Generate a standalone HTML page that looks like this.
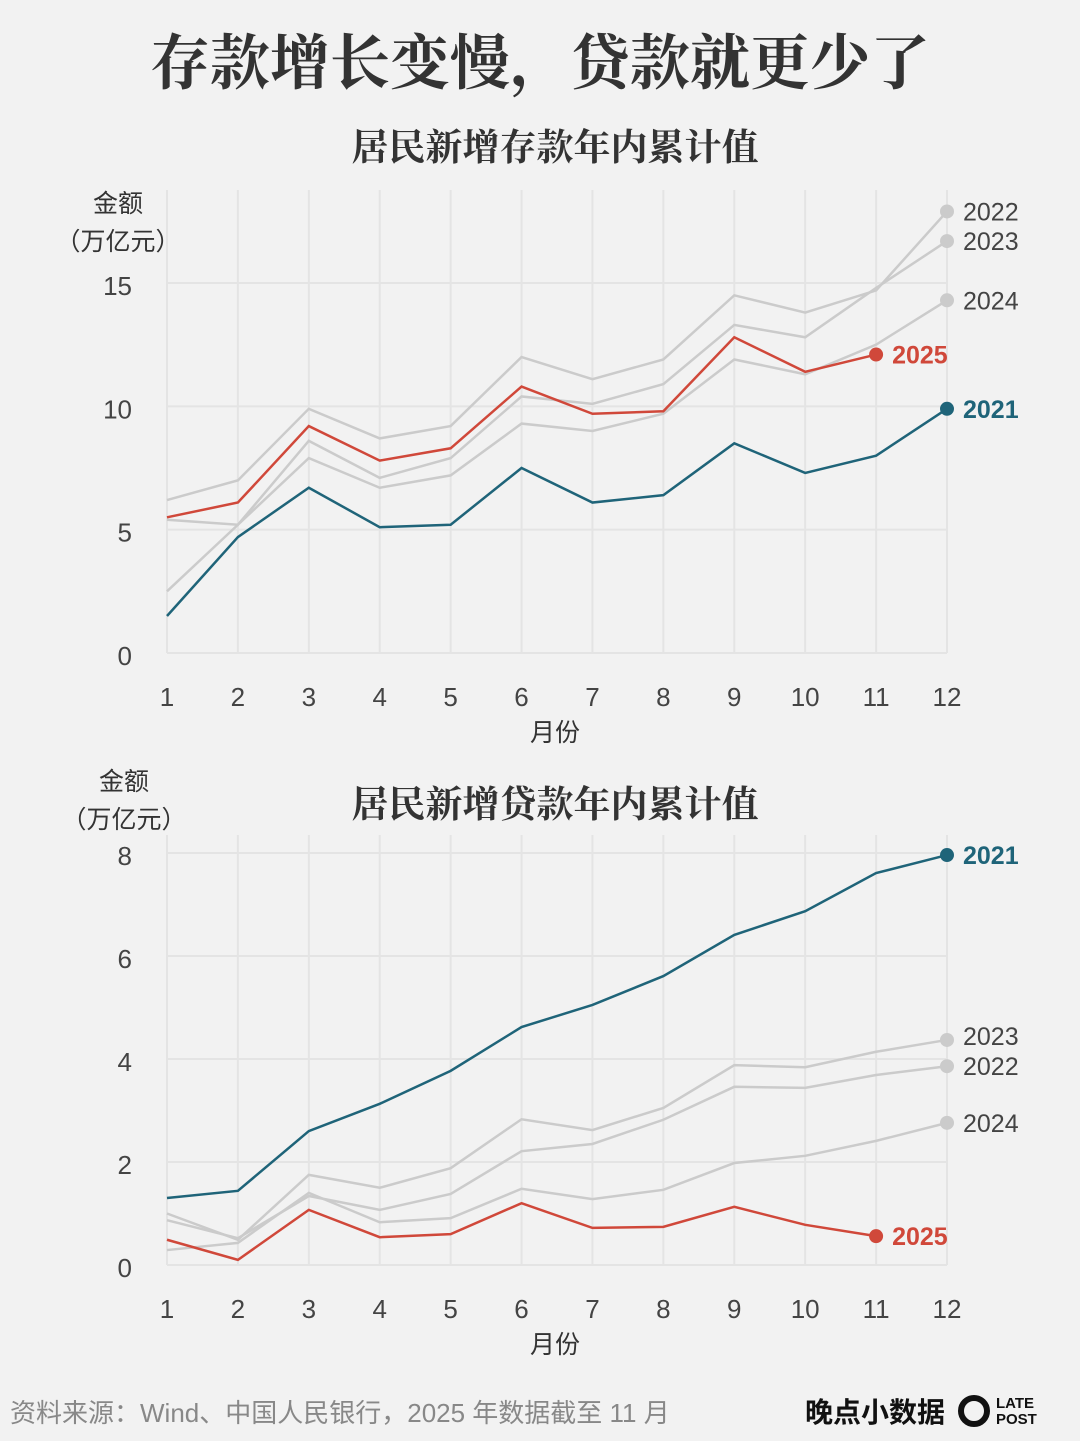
<!DOCTYPE html>
<html><head><meta charset="utf-8"><style>
html,body{margin:0;padding:0;background:#f2f2f2;}
svg{display:block;}
text{font-family:"Liberation Sans","Noto Sans CJK SC",sans-serif;}
.serif{font-family:"Liberation Serif","Noto Serif CJK SC",serif;font-weight:bold;}
</style></head><body>
<svg id="chart" width="1080" height="1441" viewBox="0 0 1080 1441">
<rect width="1080" height="1441" fill="#f2f2f2"/>
<text x="540" y="84" text-anchor="middle" class="serif" font-size="60" fill="#333">存款增长变慢，贷款就更少了</text>
<text x="555" y="160" text-anchor="middle" class="serif" font-size="37" fill="#333">居民新增存款年内累计值</text>
<text x="555" y="817" text-anchor="middle" class="serif" font-size="37" fill="#333">居民新增贷款年内累计值</text>
<g id="top"></g>
<g id="bot"></g>
<text x="10" y="1422" font-size="26" fill="#888">资料来源：Wind、中国人民银行，2025 年数据截至 11 月</text>
<text x="805" y="1422" font-size="28" font-weight="bold" fill="#111">晚点小数据</text>
<circle cx="974" cy="1411" r="13" fill="none" stroke="#111" stroke-width="6"/>
<text x="996" y="1408" font-size="15" font-weight="bold" fill="#111">LATE</text>
<text x="996" y="1424" font-size="15" font-weight="bold" fill="#111">POST</text>
</svg>
<script>
const months=[1,2,3,4,5,6,7,8,9,10,11,12];
const depTicks=[0,5,10,15];
const loanTicks=[0,2,4,6,8];
const dep2021=[1.5,4.7,6.7,5.1,5.2,7.5,6.1,6.4,8.5,7.3,8.0,9.9];
const dep2022=[6.2,7.0,9.9,8.7,9.2,12.0,11.1,11.9,14.5,13.8,14.7,17.9];
const dep2023=[5.4,5.2,8.6,7.1,7.9,10.4,10.1,10.9,13.3,12.8,14.8,16.7];
const dep2024=[2.5,5.2,7.9,6.7,7.2,9.3,9.0,9.7,11.9,11.3,12.5,14.3];
const dep2025=[5.5,6.1,9.2,7.8,8.3,10.8,9.7,9.8,12.8,11.4,12.1];
const loan2021=[1.3,1.44,2.6,3.13,3.77,4.62,5.05,5.61,6.41,6.87,7.61,7.96];
const loan2022=[0.87,0.52,1.34,1.07,1.38,2.21,2.35,2.82,3.46,3.44,3.69,3.86];
const loan2023=[1.0,0.49,1.75,1.5,1.88,2.83,2.62,3.05,3.88,3.84,4.14,4.37];
const loan2024=[0.29,0.43,1.4,0.83,0.91,1.48,1.28,1.46,1.98,2.12,2.41,2.76];
const loan2025=[0.49,0.1,1.07,0.54,0.6,1.2,0.72,0.74,1.13,0.78,0.56];
const NS='http://www.w3.org/2000/svg';
function mk(p,t,a){const e=document.createElementNS(NS,t);for(const k in a)e.setAttribute(k,a[k]);p.appendChild(e);return e;}
function draw(g,cfg){
  const x=m=>167+(m-1)*(780/11);
  const y=v=>cfg.y0-(v-0)*(cfg.y0-cfg.yTop)/(cfg.vTop);
  months.forEach(m=>{const l=mk(g,'line',{x1:x(m),x2:x(m),y1:cfg.gridTop,y2:cfg.y0,stroke:'#e4e4e4','stroke-width':2});
    
    
    const t=mk(g,'text',{x:x(m),y:cfg.y0+53,'text-anchor':'middle','font-size':26,fill:'#444'});t.textContent=m;
    
    });
  cfg.ticks.forEach(v=>{const l=mk(g,'line',{x1:167,x2:947,y1:y(v),y2:y(v),stroke:'#e4e4e4','stroke-width':2});
    
    
    const t=mk(g,'text',{x:132,y:y(v)+12,'text-anchor':'end','font-size':26,fill:'#444'});t.textContent=v;
    
    });
  const xt=mk(g,'text',{x:555,y:cfg.y0+88,'text-anchor':'middle','font-size':25,fill:'#333'});xt.textContent='月份';
  
  
  const a1=mk(g,'text',{x:cfg.ytX,y:cfg.ytY,'text-anchor':'middle','font-size':25,fill:'#333'});a1.textContent='金额';
  
  
  const a2=mk(g,'text',{x:cfg.ytX,y:cfg.ytY+38,'text-anchor':'middle','font-size':25,fill:'#333'});a2.textContent='（万亿元）';
  
  
  cfg.series.forEach(s=>{
    const pts=s.d.map((v,i)=>x(months[i])+','+y(v)).join(' ');
    const pl=mk(g,'polyline',{points:pts,fill:'none',stroke:s.c,'stroke-width':s.w});
    
    
    const li=s.d.length-1;
    const c=mk(g,'circle',{cx:x(months[li]),cy:y(s.d[li]),r:7,fill:s.c});
    
    
    const t=mk(g,'text',{x:x(months[li])+16,y:y(s.d[li])+9+(s.dy||0),'font-size':25,fill:s.tc||'#444','font-weight':s.b?'bold':'normal'});t.textContent=s.n;
    
    
  });
}
const G='#cbcbcb',R='#d0483a',B='#1f6479';
draw(document.getElementById('top'),{y0:653,yTop:283,vTop:15,gridTop:190,ticks:depTicks,ytX:118,ytY:212,
 series:[{n:'2022',d:dep2022,c:G,w:2.5},{n:'2023',d:dep2023,c:G,w:2.5},{n:'2024',d:dep2024,c:G,w:2.5},
 {n:'2021',d:dep2021,c:B,w:2.5,tc:B,b:1},{n:'2025',d:dep2025,c:R,w:2.5,tc:R,b:1}]});
draw(document.getElementById('bot'),{y0:1265,yTop:853,vTop:8,gridTop:835,ticks:loanTicks,ytX:124,ytY:790,
 series:[{n:'2022',d:loan2022,c:G,w:2.5,dy:0},{n:'2023',d:loan2023,c:G,w:2.5,dy:-4},{n:'2024',d:loan2024,c:G,w:2.5},
 {n:'2021',d:loan2021,c:B,w:2.5,tc:B,b:1},{n:'2025',d:loan2025,c:R,w:2.5,tc:R,b:1}]});
</script>
</body></html>
